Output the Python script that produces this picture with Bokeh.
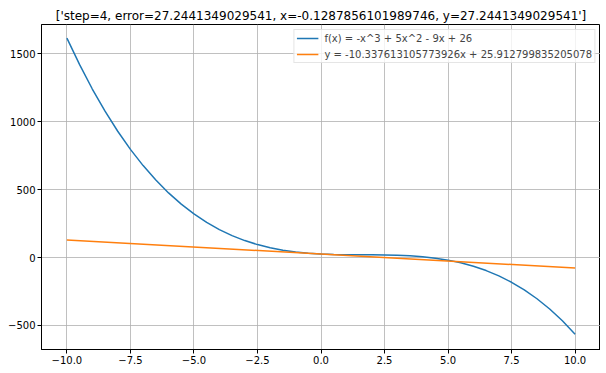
from bokeh.plotting import figure
from bokeh.models import FixedTicker, Range1d, Legend, LegendItem
from bokeh.embed import file_html
from bokeh.resources import INLINE

title_text = "['step=4, error=27.2441349029541, x=-0.1287856101989746, y=27.2441349029541']"

curve_label = "f(x) = -x^3 + 5x^2 - 9x + 26"
line_label = "y = -10.337613105773926x + 25.912799835205078"

curve_x = [-10, -9.5, -9, -8.5, -8, -7.5, -7, -6.5, -6, -5.5, -5, -4.5, -4, -3.5, -3, -2.5, -2, -1.5, -1, -0.5,
           0, 0.5, 1, 1.5, 2, 2.5, 3, 3.5, 4, 4.5, 5, 5.5, 6, 6.5, 7, 7.5, 8, 8.5, 9, 9.5, 10]
curve_y = [1616, 1420.125, 1241, 1077.875, 930, 796.625, 677, 570.375, 476, 393.125, 321, 258.875, 206, 161.625,
           125, 95.375, 72, 54.125, 41, 31.875, 26, 22.625, 21, 20.375, 20, 19.125, 17, 12.875, 6, -4.375, -19,
           -38.625, -64, -95.875, -135, -182.125, -238, -303.375, -379, -465.625, -564]

line_x = [-10, 10]
line_y = [129.289, -77.463]

x_ticks = [-10, -7.5, -5, -2.5, 0, 2.5, 5, 7.5, 10]
x_tick_labels = ["\u221210.0", "\u22127.5", "\u22125.0", "\u22122.5", "0.0", "2.5", "5.0", "7.5", "10.0"]
y_ticks = [-500, 0, 500, 1000, 1500]
y_tick_labels = ["\u2212500", "0", "500", "1000", "1500"]

FONT = "DejaVu Sans"

p = figure(frame_width=559, frame_height=325, output_backend="svg", toolbar_location=None,
           x_range=Range1d(-11, 11), y_range=Range1d(-677, 1716),
           min_border_left=41, min_border_right=0, min_border_top=24, min_border_bottom=16)

p.title.text = title_text
p.title.align = "center"
p.title.text_font = FONT
p.title.text_font_size = "12px"
p.title.text_font_style = "normal"
p.title.text_color = "black"
p.title.standoff = 4

c = p.line(curve_x, curve_y, line_color="#1f77b4", line_width=1.5)
l = p.line(line_x, line_y, line_color="#ff7f0e", line_width=1.5)

for ax, ticks, labels in ((p.xaxis[0], x_ticks, x_tick_labels), (p.yaxis[0], y_ticks, y_tick_labels)):
    ax.ticker = FixedTicker(ticks=ticks)
    ax.major_label_overrides = {t: s for t, s in zip(ticks, labels)}
    ax.major_label_text_font = FONT
    ax.major_label_text_font_size = "10px"
    ax.major_label_text_color = "black"
    ax.major_tick_out = 4
    ax.major_tick_in = 0
    ax.minor_tick_line_color = None
    ax.axis_line_color = "black"
    ax.major_tick_line_color = "black"
    ax.major_label_standoff = 2

p.xgrid.ticker = FixedTicker(ticks=x_ticks)
p.ygrid.ticker = FixedTicker(ticks=y_ticks)
p.grid.grid_line_color = "#b0b0b0"
p.grid.grid_line_width = 0.8
p.grid.grid_line_alpha = 1.0
p.outline_line_color = "black"
p.outline_line_alpha = 1.0
p.outline_line_width = 1
p.background_fill_color = "white"
p.border_fill_color = "white"

legend = Legend(items=[LegendItem(label=curve_label, renderers=[c]),
                       LegendItem(label=line_label, renderers=[l])],
                location="top_right")
legend.margin = 5
legend.padding = 2
legend.spacing = 4
legend.glyph_height = 12
legend.label_height = 12
legend.glyph_width = 22
legend.label_standoff = 6
legend.label_text_font = FONT
legend.label_text_font_size = "10px"
legend.border_line_color = "#cccccc"
legend.background_fill_alpha = 0.8
p.add_layout(legend, "center")

open("out.html", "w").write(file_html(p, INLINE))
